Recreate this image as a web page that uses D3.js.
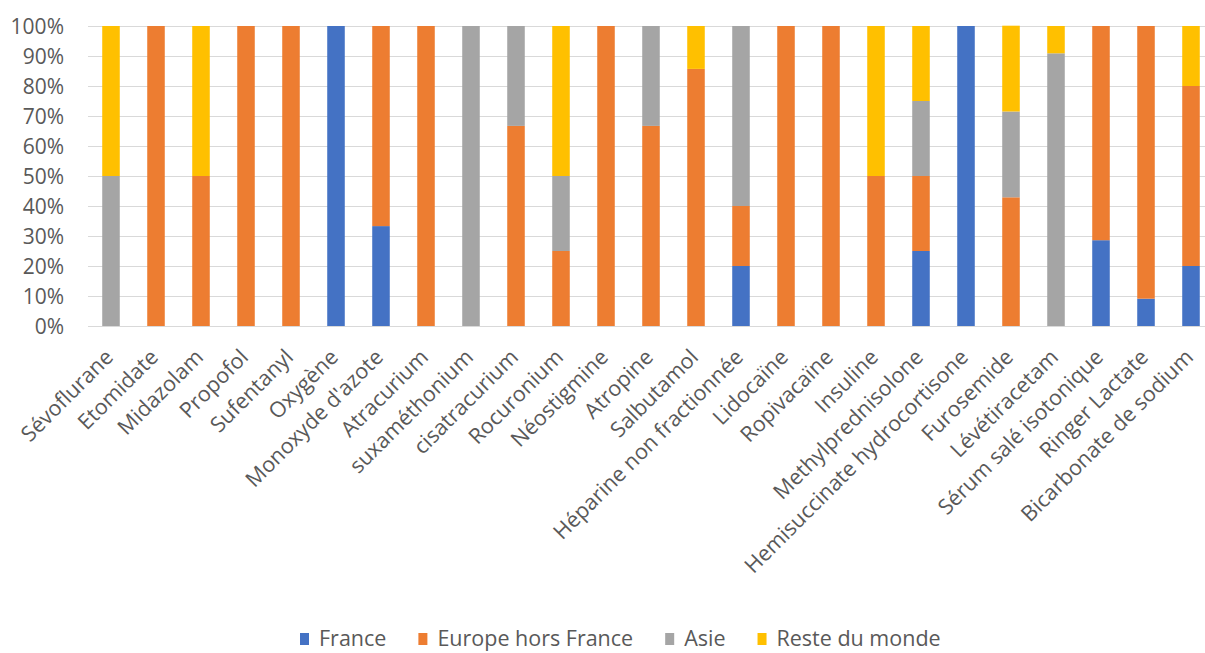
<!DOCTYPE html>
<html>
<head>
<meta charset="utf-8">
<script src="https://cdn.jsdelivr.net/npm/d3@7"></script>
<style>
  body { margin: 0; background: #fff; }
  svg { display: block; }
</style>
</head>
<body>
<div id="chart"></div>
<script>
// valeurs en % par médicament
var categories = ["Sévoflurane", "Etomidate", "Midazolam", "Propofol", "Sufentanyl", "Oxygène",
  "Monoxyde d'azote", "Atracurium", "suxaméthonium", "cisatracurium", "Rocuronium", "Néostigmine",
  "Atropine", "Salbutamol", "Héparine non fractionnée", "Lidocaïne", "Ropivacaïne", "Insuline",
  "Methylprednisolone", "Hemisuccinate hydrocortisone", "Furosemide", "Lévétiracetam",
  "Sérum salé isotonique", "Ringer Lactate", "Bicarbonate de sodium"];
var france = [0, 0, 0, 0, 0, 100, 33.3, 0, 0, 0, 0, 0, 0, 0, 20, 0, 0, 0, 25, 100, 0, 0, 28.6, 9.1, 20];
var europe = [0, 100, 50, 100, 100, 0, 66.7, 100, 0, 66.7, 25, 100, 66.7, 85.7, 20, 100, 100, 50, 25, 0, 42.9, 0, 71.4, 90.9, 60];
var asie   = [50, 0, 0, 0, 0, 0, 0, 0, 100, 33.3, 25, 0, 33.3, 0, 60, 0, 0, 0, 25, 0, 28.6, 90.9, 0, 0, 0];
var reste  = [50, 0, 50, 0, 0, 0, 0, 0, 0, 0, 50, 0, 0, 14.3, 0, 0, 0, 50, 25, 0, 28.6, 9.1, 0, 0, 20];
var seriesNames = ["France", "Europe hors France", "Asie", "Reste du monde"];
var yTicks = [0, 10, 20, 30, 40, 50, 60, 70, 80, 90, 100];

var w = 1205;
var h = 653;
var couleurs = ["#4472C4", "#ED7D31", "#A5A5A5", "#FFC000"];
var texte = "#595959";
var fonte = "'Open Sans', sans-serif";
var taille = "21.5px";

var rows = categories.map(function(c, i) {
  return {cat: c, "France": france[i], "Europe hors France": europe[i], "Asie": asie[i], "Reste du monde": reste[i]};
});

var svg = d3.select("#chart").append("svg")
  .attr("width", w)
  .attr("height", h);

var x = d3.scaleBand()
  .domain(categories)
  .range([88.5, 1213.5])
  .paddingInner(0.61)
  .paddingOuter(0.305);

var y = d3.scaleLinear()
  .domain([0, 100])
  .range([326, 26]);

// grille
svg.append("g").selectAll("line")
  .data(yTicks)
  .enter()
  .append("line")
  .attr("x1", 88)
  .attr("x2", w)
  .attr("y1", function(d) { return Math.round(y(d)) + 0.5; })
  .attr("y2", function(d) { return Math.round(y(d)) + 0.5; })
  .attr("stroke", "#D9D9D9")
  .attr("stroke-width", 1);

svg.append("g").selectAll("text")
  .data(yTicks)
  .enter()
  .append("text")
  .text(function(d) { return d + "%"; })
  .attr("x", 64)
  .attr("y", function(d) { return y(d); })
  .attr("dy", "0.36em")
  .attr("text-anchor", "end")
  .attr("font-family", fonte)
  .attr("font-size", "21px")
  .attr("fill", texte);

var stack = d3.stack().keys(seriesNames)(rows);

svg.append("g").selectAll("g")
  .data(stack)
  .enter()
  .append("g")
  .attr("fill", function(d, i) { return couleurs[i]; })
  .selectAll("rect")
  .data(function(d) { return d; })
  .enter()
  .append("rect")
  .attr("x", function(d) { return x(d.data.cat); })
  .attr("y", function(d) { return y(d[1]); })
  .attr("width", x.bandwidth())
  .attr("height", function(d) { return y(d[0]) - y(d[1]); });

// étiquettes en diagonale
svg.append("g").selectAll("text")
  .data(categories)
  .enter()
  .append("text")
  .text(function(d) { return d; })
  .attr("transform", function(d) {
    return "translate(" + (x(d) + x.bandwidth() / 2 - 2) + ",353) rotate(-45)";
  })
  .attr("text-anchor", "end")
  .attr("dy", "0.36em")
  .attr("font-family", fonte)
  .attr("font-size", taille)
  .attr("fill", texte);

// légende (remontée un peu pour ne pas couper les jambages)
var legende = svg.append("g");
var lx = 300;
seriesNames.forEach(function(s, i) {
  legende.append("rect")
    .attr("x", lx)
    .attr("y", 633)
    .attr("width", 9)
    .attr("height", 12)
    .attr("fill", couleurs[i]);
  var t = legende.append("text")
    .text(s)
    .attr("x", lx + 19)
    .attr("y", 638)
    .attr("dy", "0.36em")
    .attr("font-family", fonte)
    .attr("font-size", taille)
    .attr("fill", texte);
  lx += 19 + t.node().getComputedTextLength() + 32;
});
</script>
</body>
</html>
